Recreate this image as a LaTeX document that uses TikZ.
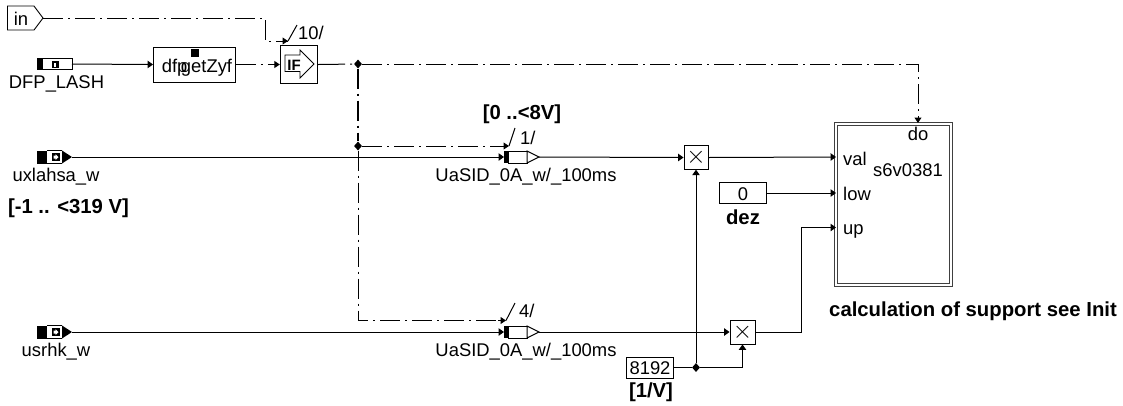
\documentclass[tikz,border=0pt]{standalone}
\usepackage{fontspec}
\setmainfont{Liberation Sans}
\usetikzlibrary{arrows.meta,shapes.geometric,calc}
\tikzset{
  txt/.style={inner sep=0pt,anchor=base,font=\fontsize{18.4}{20}\selectfont},
  btxt/.style={inner sep=0pt,anchor=base,font=\fontsize{20.3}{22}\selectfont\bfseries},
  blk/.style={draw,line width=.9pt,fill=white,inner sep=0pt,rectangle},
  sig/.style={line width=1pt,-{Triangle[length=5.5pt,width=7.5pt]}},
  sigplain/.style={line width=1pt},
  ctl/.style={line width=1pt,dash pattern=on 20pt off 5pt on 2pt off 5pt},
  ctlarr/.style={ctl,-{Triangle[length=5.5pt,width=7pt]}},
  junc/.style={diamond,fill=black,inner sep=0pt,minimum width=8pt,minimum height=9pt},
  tick/.style={line width=1pt},
  multxt/.style={inner sep=0pt,font=\fontsize{25}{25}\selectfont},
}
% source block: name, y
\newcommand{\srcblock}[2]{%
  \fill (37,#2-6.5) rectangle (47,#2+6.5);
  \draw[line width=1pt] (47,#2-6.5) -- (62,#2-6.5) (47,#2+6.5) -- (62,#2+6.5);
  \fill (62,#2-6.5) -- (72,#2) -- (62,#2+6.5) -- cycle;
  \fill (52,#2-4) rectangle (59.5,#2+4);
  \fill[white] (53.5,#2-1.5) -- (55.5,#2-1.5) -- (55.5,#2-3) -- (58.5,#2) -- (55.5,#2+3) -- (55.5,#2+1.5) -- (53.5,#2+1.5) -- cycle;
  \coordinate (#1) at (72,#2);
}
% output block: name, y
\newcommand{\outblock}[2]{%
  \fill (504,#2-6) rectangle (508,#2+6);
  \draw[line width=1pt] (508,#2-6) rectangle (527,#2+6);
  \draw[line width=1pt,fill=white] (527,#2-6) -- (539,#2) -- (527,#2+6) -- cycle;
  \coordinate (#1in) at (504,#2);
  \coordinate (#1out) at (539,#2);
}
\begin{document}
\begin{tikzpicture}[x=1pt,y=-1pt]
\useasboundingbox (0,0) rectangle (1123,405);
% in tag
\draw[line width=.9pt] (7.5,6) -- (34,6) -- (43,18) -- (34,30) -- (7.5,30) -- cycle;
\node[txt] (intxt) at (21,25) {in};
\coordinate (inout) at (43,18);
% DFP_LASH
\fill (37,58) rectangle (42,70);
\draw[line width=1pt] (42,58.5) rectangle (72,69.5);
\fill (52,61) rectangle (59,68);
\fill[white] (53.5,62.5) rectangle (56,66.5);
\coordinate (dfpsrc) at (72,64);
\node[txt] (dfplbl) at (56.5,88.5) {DFP\_LASH};
% dfp getZyf
\node[blk,minimum width=82pt,minimum height=35pt] (getz) at (194.5,64.5) {};
\fill (191,49) rectangle (199,57);
\node[txt] (getztxt) at (197,72.5) {dfp\kern-6.5pt getZyf};
% IF
\node[blk,minimum width=37.5pt,minimum height=37.5pt] (ifb) at (299,64.5) {};
\draw[line width=.8pt] (285,55) -- (300,55) -- (300,50) -- (314,64) -- (300,78) -- (300,71.5) -- (285,71.5) -- cycle;
\node[inner sep=0pt,anchor=base,font=\fontsize{15}{17}\selectfont\bfseries] (iftxt) at (294,70) {IF};
\node[txt,anchor=base west] (n10) at (298,39.5) {10/};
\coordinate (ifctl) at (288,41);
\coordinate (iftick) at (297,25);
\draw[tick] (ifctl) -- (iftick);
% junctions
\node[junc] (j1) at (358,64) {};
\node[junc] (j2) at (358,146) {};
\coordinate (c4) at (358,320.5);
\coordinate (doin) at (918,123);
% sources
\srcblock{usrc}{157}
\srcblock{ssrc}{332}
\node[txt] (ulbl) at (56,181.5) {uxlahsa\_w};
\node[txt] (slbl) at (56,356) {usrhk\_w};
\node[btxt] (ubnd) at (68.5,213) {[-1 .. <319 V]};
% output blocks
\outblock{oa}{157}
\outblock{ob}{332}
\node[txt] (oalbl) at (526,181) {UaSID\_0A\_w/\_100ms};
\node[txt] (oblbl) at (526,356) {UaSID\_0A\_w/\_100ms};
\node[btxt] (oabnd) at (522,119) {[0 ..<8V]};
\node[txt,anchor=base west] (n1) at (520,144) {1/};
\node[txt,anchor=base west] (n4) at (519,317) {4/};
\coordinate (t1a) at (509,146); \coordinate (t1b) at (515,128);
\coordinate (t4a) at (506,320.5); \coordinate (t4b) at (515,303);
\draw[tick] (t1a) -- (t1b) (t4a) -- (t4b);
% multipliers
\node[blk,minimum width=24pt,minimum height=23.5pt] (m1) at (696,157.5) {};
\node[multxt] (m1t) at (696,157.5) {$\times$};
\node[blk,minimum width=25pt,minimum height=24pt] (m2) at (742.5,332) {};
\node[multxt] (m2t) at (742.5,332) {$\times$};
% constants
\node[blk,minimum width=47pt,minimum height=21pt] (k0) at (742.5,193) {};
\node[txt] (k0t) at (743,200) {0};
\node[btxt] (dez) at (743,224) {dez};
\node[blk,minimum width=47pt,minimum height=21pt] (k8) at (649.5,367.5) {};
\node[txt] (k8t) at (650,374) {8192};
\node[btxt] (kv) at (651,397) {[1/V]};
\node[junc] (j3) at (696,367.5) {};
% main block
\node[draw,line width=1pt,draw=black!75,double=white,double distance=1.6pt,rectangle,minimum width=115pt,minimum height=161pt,inner sep=0pt] (s6) at (893.5,204.5) {};
\node[txt] at (918,140) (do) {do};
\node[txt,anchor=base west] (val) at (843,165) {val};
\node[txt,anchor=base west] (low) at (843,200.5) {low};
\node[txt,anchor=base west] (up) at (843,234) {up};
\node[txt] (s6n) at (908,176.5) {s6v0381};
\node[btxt,anchor=base west] (calc) at (829,316.5) {calculation of support see Init};
\coordinate (upc) at (801,227.5);
\coordinate (s6val) at (836,157);
\coordinate (s6low) at (836,193);
\coordinate (s6up) at (836,227.5);
% connectors
\draw[ctl] (inout) -- (265,18) -- (265,41) -- (ifctl);
\draw[-{Triangle[length=5.5pt,width=7pt]},line width=1pt] (282,41) -- (ifctl);
\draw[sig] (dfpsrc) -- (getz.west);
\draw[ctlarr] (getz.east) -- (ifb.west);
\draw[ctl,dash pattern=on 27pt off 5pt on 2pt off 5pt] (ifb.east) -- (j1);
\draw[ctlarr] (j1) -- (918,64) -- (doin);
\draw[ctl,line width=1.5pt] (j1) -- (j2);
\draw[ctl] (j2) -- (c4) -- (t4a);
\draw[-{Triangle[length=5.5pt,width=7pt]},line width=1pt] (498,320.5) -- (t4a);
\draw[ctlarr] (j2) -- (t1a);
\draw[sig] (usrc) -- (oain);
\draw[sig] (ssrc) -- (obin);
\draw[sig] (oaout) -- (m1.west);
\draw[sig] (obout) -- (m2.west);
\draw[sig] (m1.east) -- (s6val);
\draw[sig] (k0.east) -- (s6low);
\draw[sig] (m2.east) -| (upc) -- (s6up);
\draw[sig] (j3) -- (m1.south);
\draw[sig] (j3) -| (m2.south);
\draw[sigplain] (k8.east) -- (j3);
\end{tikzpicture}
\end{document}
